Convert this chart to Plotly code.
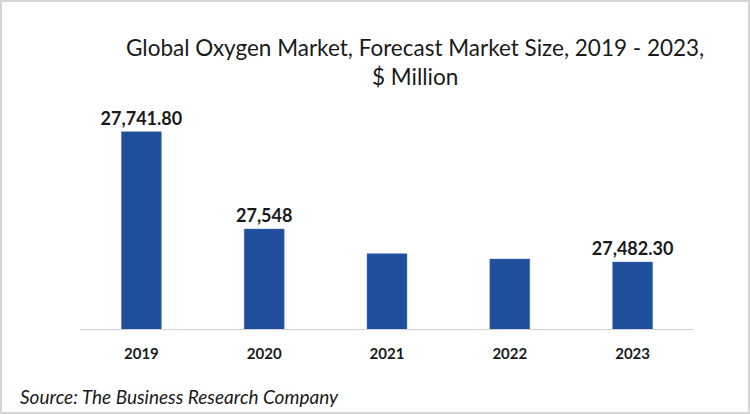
import plotly.graph_objects as go

years = ["2019", "2020", "2021", "2022", "2023"]
market_size = [27741.80, 27548.0, 27499.0, 27488.3, 27482.30]
bar_labels = ["27,741.80", "27,548", "", "", "27,482.30"]

W, H = 750, 414
ml, mr, mt, mb = 80, 56, 100, 85
pw, ph = W - ml - mr, H - mt - mb

fig = go.Figure()
fig.add_trace(go.Bar(
    x=years, y=market_size,
    marker=dict(color="#1f4e9d", line=dict(color="#4a72b8", width=0.5)),
    text=bar_labels, textposition="outside", cliponaxis=False,
    constraintext="none",
    textfont=dict(family="Lato", size=18, color="#1a1a1a", weight="bold"),
    hoverinfo="x+y",
))

fig.update_layout(
    width=W, height=H,
    margin=dict(l=ml, r=mr, t=mt, b=mb),
    plot_bgcolor="white", paper_bgcolor="white",
    showlegend=False, bargap=0.675,
    font=dict(family="Lato", color="#1a1a1a"),
)
fig.update_xaxes(
    showline=True, linecolor="#d0d0d0", linewidth=1,
    tickfont=dict(family="Lato", size=15, color="#1a1a1a", weight="bold"),
    ticks="", showgrid=False, ticklabelstandoff=11,
)
fig.update_yaxes(range=[27349, 27805], visible=False, showgrid=False)

# title
fig.add_annotation(
    text="Global Oxygen Market, Forecast Market Size, 2019 - 2023,<br>$ Million",
    xref="paper", yref="paper", x=(415 - ml) / pw, y=1 + (mt - 32) / ph,
    xanchor="center", yanchor="top", showarrow=False, align="center",
    font=dict(family="Lato", size=22.5, color="#1a1a1a"),
)
# source
fig.add_annotation(
    text="<i>Source: The Business Research Company</i>",
    xref="paper", yref="paper", x=-(ml - 18) / pw, y=-(396 - (H - mb)) / ph,
    xanchor="left", yanchor="middle", showarrow=False,
    font=dict(family="Lato", size=19, color="#1a1a1a"),
)
# outer border
fig.add_shape(
    type="rect", xref="paper", yref="paper",
    x0=-(ml - 1) / pw, x1=1 + (mr - 1) / pw,
    y0=-(mb - 1) / ph, y1=1 + (mt - 1) / ph,
    line=dict(color="#d6d6d6", width=2), layer="below",
)

fig.write_html("out.html", config={"displayModeBar": False},
               post_script="document.body.style.margin='0';")
